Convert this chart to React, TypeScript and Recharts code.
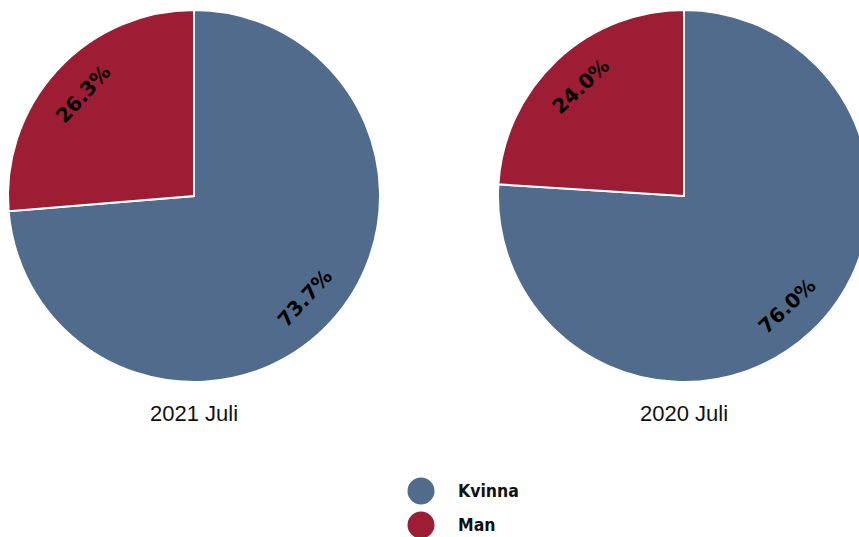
import React from 'react';
import { PieChart, Pie, Cell, Legend } from 'recharts';

const categories = ['Kvinna', 'Man'];
const colors = ['#506b8b', '#9d1d35'];
const values2021 = [73.7, 26.3];
const values2020 = [76.0, 24.0];
const titles = ['2021 Juli', '2020 Juli'];

const data2021 = categories.map((name, i) => ({ name, value: values2021[i] }));
const data2020 = categories.map((name, i) => ({ name, value: values2020[i] }));

const RAD = Math.PI / 180;

const renderLabel = (props: any) => {
  const { cx, cy, midAngle, outerRadius, percent } = props;
  const r = outerRadius * 0.81;
  const ts = -midAngle;
  const x = cx + r * Math.cos(ts * RAD);
  const y = cy + r * Math.sin(ts * RAD);
  let rot = ts - 90;
  while (rot > 90) rot -= 180;
  while (rot <= -90) rot += 180;
  return (
    <text
      x={x}
      y={y}
      textAnchor="middle"
      dominantBaseline="central"
      transform={`rotate(${rot}, ${x}, ${y})`}
      fill="#000"
      fontFamily="DejaVu Sans"
      fontWeight="bold"
      fontSize={20}
    >
      {(percent * 100).toFixed(1) + '%'}
    </text>
  );
};

const renderLegend = () => (
  <div style={{ fontFamily: '"DejaVu Sans Condensed", "DejaVu Sans"', fontWeight: 'bold', fontSize: 17.5, color: '#111' }}>
    {categories.map((c, i) => (
      <div key={c} style={{ display: 'flex', alignItems: 'center', height: 34 }}>
        <svg width={28} height={28} style={{ marginRight: 23 }}>
          <circle cx={14} cy={14} r={13.5} fill={colors[i]} />
        </svg>
        <span>{c}</span>
      </div>
    ))}
  </div>
);

export default function App() {
  return (
    <div style={{ position: 'absolute', left: 0, top: 0, width: 859, height: 537, background: '#fff', overflow: 'hidden' }}>
      <PieChart width={859} height={537} margin={{ top: 0, right: 0, bottom: 0, left: 0 }}>
        <Pie
          data={data2021}
          dataKey="value"
          nameKey="name"
          cx={194}
          cy={196}
          outerRadius={186}
          startAngle={90}
          endAngle={-270}
          stroke="#fff"
          strokeWidth={2}
          labelLine={false}
          label={renderLabel}
          isAnimationActive={false}
        >
          {data2021.map((d, i) => (
            <Cell key={d.name} fill={colors[i]} />
          ))}
        </Pie>
        <Pie
          data={data2020}
          dataKey="value"
          nameKey="name"
          cx={684}
          cy={196}
          outerRadius={186}
          startAngle={90}
          endAngle={-270}
          stroke="#fff"
          strokeWidth={2}
          labelLine={false}
          label={renderLabel}
          isAnimationActive={false}
        >
          {data2020.map((d, i) => (
            <Cell key={d.name} fill={colors[i]} />
          ))}
        </Pie>
        <Legend
          content={renderLegend}
          wrapperStyle={{ position: 'absolute', left: 407, top: 474, width: 200, height: 70 }}
        />
      </PieChart>
      {titles.map((t, i) => (
        <div
          key={t}
          style={{
            position: 'absolute',
            left: i === 0 ? 94 : 584,
            width: 200,
            top: 401,
            textAlign: 'center',
            fontFamily: '"Liberation Sans", Arial, sans-serif',
            fontSize: 22,
            color: '#111',
          }}
        >
          {t}
        </div>
      ))}
    </div>
  );
}
